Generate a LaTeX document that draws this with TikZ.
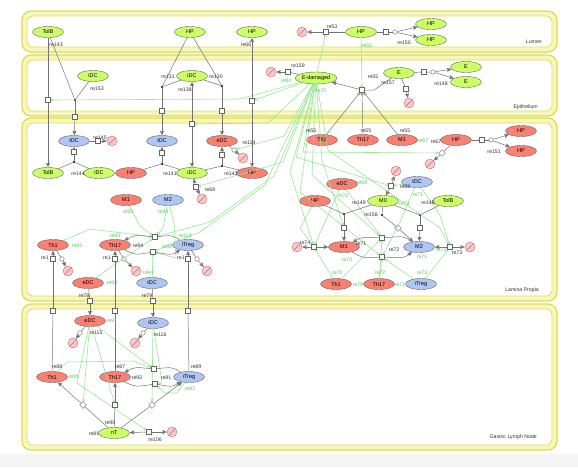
\documentclass[tikz,border=0pt]{standalone}
\usepackage{fontspec}
\setmainfont{Liberation Sans}
\usetikzlibrary{shapes.geometric,arrows.meta,positioning}
\definecolor{spgreen}{RGB}{204,255,102}
\definecolor{spred}{RGB}{250,128,114}
\definecolor{spblue}{RGB}{176,198,242}
\definecolor{modgreen}{RGB}{150,232,150}
\definecolor{labgreen}{RGB}{80,205,80}
\definecolor{compfill}{RGB}{246,246,196}
\definecolor{compline}{RGB}{222,222,70}
\definecolor{degfill}{RGB}{250,200,200}
\definecolor{degline}{RGB}{200,110,110}
\colorlet{conn}{black!55}

\tikzset{
  species/.style={ellipse, draw=black!60, line width=0.4pt, minimum width=31, minimum height=11, inner sep=0, font=\fontsize{5.5}{5.5}\selectfont},
  green sp/.style={species, fill=spgreen},
  red sp/.style={species, fill=spred},
  blue sp/.style={species, fill=spblue},
  deg/.style={circle, draw=degline, fill=degfill, minimum size=10, inner sep=0, path picture={\draw[degline] (path picture bounding box.south west) -- (path picture bounding box.north east);}},
  proc/.style={rectangle, draw=black!60, fill=white, minimum size=5, inner sep=0},
  bullet/.style={circle, fill=black, minimum size=2.4, inner sep=0},
  ring/.style={circle, draw=black!60, fill=white, minimum size=4.5, inner sep=0},
  kite/.style={diamond, draw=black!60, fill=white, minimum size=7, inner sep=0},
  rlab/.style={font=\fontsize{5.2}{5.2}\selectfont, text=black!80, inner sep=0},
  glab/.style={rlab, text=labgreen},
  conv/.style={draw=conn, line width=0.5pt},
  prod/.style={conv, -{Stealth[length=4.5pt,width=4pt,inset=0.8pt]}},
  modi/.style={conv, -{Circle[open,length=3pt,width=3pt]}},
  ctrl/.style={draw=modgreen, line width=0.6pt, -{Circle[open,length=3pt,width=3pt]}},
  comp/.style={fill=compfill, draw=compline, line width=1.2pt, rounded corners=9},
  compin/.style={fill=white, draw=compline, line width=0.7pt, rounded corners=6},
}

\begin{document}
\begin{tikzpicture}[x=1pt,y=-1pt]
    \useasboundingbox (0,0) rectangle (578,467);
    \fill[white] (0,0) rectangle (578,467);
    \fill[black!4] (0,454) rectangle (578,467);

    % compartments
    \draw[comp] (22,11) rectangle (557,52);
    \draw[compin] (27,16) rectangle (552,47);
    \draw[comp] (22,55) rectangle (557,116);
    \draw[compin] (27,60) rectangle (552,111);
    \draw[comp] (22,118) rectangle (557,301);
    \draw[compin] (27,123) rectangle (552,296);
    \draw[comp] (22,304) rectangle (557,450);
    \draw[compin] (27,309) rectangle (552,445);
    \node[rlab, anchor=east] (lumen) at (542,42) {Lumen};
    \node[rlab, anchor=east] (epith) at (538,107) {Epithelium};
    \node[rlab, anchor=east] (lamina) at (539,290) {Lamina Propia};
    \node[rlab, anchor=east] (gln) at (537,437) {Gastric Lymph Node};

    % Lumen
    \node[green sp] (tolbLu) at (48,32) {TolB};
    \node[green sp] (hpLu1) at (190,32) {HP};
    \node[green sp] (hpLu2) at (252,32) {HP};
    \node[green sp] (hpLu3) at (361,32) {HP};
    \node[green sp] (hpLu4) at (431,24) {HP};
    \node[green sp] (hpLu5) at (431,40) {HP};
    \node[deg] (dgLu) at (302,32) {};
    \node[proc] (re53) at (326,32) {};
    \node[proc] (re150) at (386,32) {};
    \node[ring] (re150r) at (395,32) {};

    % Epithelium
    \node[green sp] (idcEp1) at (93,76) {iDC};
    \node[green sp] (idcEp2) at (192,76) {iDC};
    \node[green sp, minimum width=42, minimum height=12] (edam) at (316,78) {E-damaged};
    \node[green sp] (eEp1) at (399,73) {E};
    \node[green sp] (eEp2) at (466,67) {E};
    \node[green sp] (eEp3) at (466,82) {E};
    \node[deg] (dgEp1) at (271,72) {};
    \node[proc] (re159) at (288,72) {};
    \node[proc] (re157) at (424,72) {};
    \node[ring] (re157r) at (433,72) {};
    \node[proc] (reEdg) at (406,89) {};
    \node[deg] (dgEp2) at (409,103) {};
    \node[proc] (re55) at (362,90) {};
    \coordinate (re55k) at (374,90);

    \node[proc] (re143) at (48,100) {};
    \node[bullet] (re153d) at (75,100) {};
    \node[proc] (re153) at (75,117) {};
    \node[bullet] (re131d) at (162,87) {};
    \node[proc] (re131) at (162,111) {};
    \node[bullet] (re130d) at (222,86) {};
    \node[proc] (re130) at (222,111) {};
    \node[proc] (re138) at (192,124) {};
    \node[proc] (re66) at (252,101) {};

    % Lamina Propia, left
    \node[blue sp] (tdcLP1) at (74,141) {tDC};
    \node[proc] (re145) at (98,141) {};
    \node[deg] (dgLP1) at (112,141) {};
    \node[green sp] (tolbLP) at (48,173) {TolB};
    \node[green sp] (idcLP1) at (99,173) {iDC};
    \node[bullet] (re144d) at (74,162) {};
    \node[proc] (re144) at (74,152) {};
    \node[blue sp] (tdcLP2) at (162,141) {tDC};
    \node[red sp] (hpLP1) at (131,173) {HP};
    \node[green sp] (idcLP2) at (192,173) {iDC};
    \node[bullet] (re141d) at (162,164) {};
    \node[proc] (re141) at (162,153) {};
    \node[red sp] (edcLP1) at (222,141) {eDC};
    \node[red sp] (hpLP2) at (252,173) {HP};
    \node[bullet] (re142d) at (222,166) {};
    \node[proc] (re142) at (222,155) {};
    \node[ring] (re114r) at (234,150) {};
    \node[deg] (dgLP2) at (243,158) {};
    \node[proc] (re68) at (196,187) {};
    \node[deg] (dgLP3) at (202,199) {};
    \node[red sp] (m1LP1) at (126,200) {M1};
    \node[blue sp] (m2LP1) at (168,200) {M2};

    \node[red sp] (th1LP2) at (53,245) {Th1};
    \node[red sp] (th17LP2) at (115,245) {Th17};
    \node[blue sp] (itregLP1) at (188,245) {iTreg};
    \node[proc] (re93) at (155,237) {};
    \node[proc] (re94) at (153,252) {};
    \node[proc] (sqTh1) at (53,259) {};
    \node[proc] (sqTh17) at (115,259) {};
    \node[proc] (sqItreg) at (188,259) {};
    \node[ring] (re12a) at (62,259) {};
    \node[deg] (dgTh1) at (68,271) {};
    \node[ring] (re12b) at (124,259) {};
    \node[deg] (dgTh17) at (136,271) {};
    \node[ring] (re12c) at (197,259) {};
    \node[deg] (dgItreg) at (207,271) {};
    \node[red sp] (edcLP3) at (88,283) {eDC};
    \node[blue sp] (tdcLP4) at (152,283) {tDC};
    \node[proc] (re78) at (90,301) {};
    \node[proc] (re79) at (153,301) {};

    % Lamina Propia, right
    \node[red sp] (th1LP1) at (322,140) {Th1};
    \node[red sp] (th17LP1) at (363,140) {Th17};
    \node[red sp] (m1LP2) at (402,140) {M1};
    \node[red sp] (hpLP3) at (456,140) {HP};
    \node[proc] (re151) at (482,140) {};
    \node[ring] (re151r) at (491,140) {};
    \node[red sp] (hpLP4) at (521,131) {HP};
    \node[red sp] (hpLP5) at (521,151) {HP};
    \node[kite] (re67) at (442,153) {};
    \node[deg] (dgLP4) at (430,164) {};
    \node[red sp] (edcLP2) at (342,184) {eDC};
    \node[blue sp] (tdcLP3) at (417,182) {tDC};
    \node[deg] (dgLP5) at (396,171) {};
    \node[proc] (re69) at (391,186) {};
    \node[red sp] (hpLP6) at (315,201) {HP};
    \node[green sp] (m0LP) at (383,201) {M0};
    \node[green sp] (tolbLP2) at (448,201) {TolB};
    \node[bullet] (re149d) at (344,214) {};
    \node[proc] (re149) at (344,228) {};
    \node[bullet] (re158d) at (382,215) {};
    \node[kite] (re158) at (398,228) {};
    \node[bullet] (re146d) at (420,215) {};
    \node[proc] (re146) at (420,228) {};
    \node[red sp] (m1LP3) at (344,247) {M1};
    \node[blue sp] (m2LP2) at (419,247) {M2};
    \node[deg] (dgLP6) at (297,247) {};
    \node[proc] (re74) at (314,247) {};
    \node[deg] (dgLP7) at (470,247) {};
    \node[proc] (re73) at (450,247) {};
    \node[proc] (re71) at (382,238) {};
    \node[proc] (re72) at (382,257) {};
    \node[red sp] (th1LP3) at (336,284) {Th1};
    \node[red sp] (th17LP3) at (379,284) {Th17};
    \node[blue sp] (itregLP2) at (421,284) {iTreg};

    % Gastric Lymph Node
    \node[red sp] (edcG) at (90,321) {eDC};
    \node[blue sp] (tdcG) at (153,323) {tDC};
    \node[ring] (re115) at (80,333) {};
    \node[deg] (dgG1) at (73,343) {};
    \node[ring] (re116) at (143,333) {};
    \node[deg] (dgG2) at (135,343) {};
    \node[red sp] (th1G) at (52,377) {Th1};
    \node[red sp] (th17G) at (115,377) {Th17};
    \node[blue sp] (itregG) at (189,377) {iTreg};
    \node[proc] (re88) at (53,311) {};
    \node[proc] (re87) at (115,311) {};
    \node[proc] (re89) at (188,311) {};
    \node[proc] (re91) at (154,369) {};
    \node[proc] (re92) at (155,384) {};
    \node[green sp] (ntG) at (114,433) {nT};
    \node[kite] (re80) at (83,405) {};
    \node[proc] (re90) at (115,405) {};
    \node[kite] (re83) at (152,405) {};
    \node[proc] (re106) at (149,432) {};
    \node[deg] (dgG3) at (172,432) {};

    % green controls
    \draw[ctrl] (edam) -- (240,99) -- (re143);
    \draw[ctrl] (edam) -- (re66);
    \draw[ctrl] (edam) -- (re53);
    \draw[ctrl] (edam) -- (268,123) -- (re138);
    \draw[ctrl] (edam) -- (284,136) -- (re114r);
    \draw[ctrl] (edam) -- (283,162) -- (re68);
    \draw[ctrl] (edam) -- (274,176) -- (210,222) -- (re93);
    \draw[ctrl] (edam) -- (264,186) -- (200,232) -- (re94);
    \draw[ctrl] (edam) -- (303,152) -- (re67);
    \draw[ctrl] (edam) -- (296,157) -- (re69);
    \draw[ctrl] (edam) -- (290,172) -- (re74);
    \draw[ctrl] (edam) -- (312,175) -- (re71);
    \draw[ctrl] (edam) -- (300,192) -- (re72);
    \draw[ctrl] (edam) -- (322,160) -- (re149);
    \draw[ctrl] (edam) -- (328,150) -- (440,228) -- (re73);
    \draw[ctrl] (hpLu3) -- (re55);
    \draw[ctrl] (edcLP2) -- (re71);
    \draw[ctrl] (edcLP2) -- (328,215) -- (re74);
    \draw[ctrl] (tdcLP3) -- (re69);
    \draw[ctrl] (tdcLP3) -- (400,222) -- (re72);
    \draw[ctrl] (tdcLP3) -- (440,215) -- (re73);
    \draw[ctrl] (hpLP6) -- (300,228) -- (re74);
    \draw[ctrl] (th1LP3) -- (re74);
    \draw[ctrl] (th1LP3) -- (re71);
    \draw[ctrl] (th17LP3) -- (re72);
    \draw[ctrl] (th17LP3) -- (re71);
    \draw[ctrl] (itregLP2) -- (re73);
    \draw[ctrl] (itregLP2) -- (re72);
    \draw[ctrl] (th1LP2) -- (90,229) -- (re93);
    \draw[ctrl] (edcLP3) -- (re93);
    \draw[ctrl] (tdcLP4) -- (re94);
    \draw[ctrl] (m1LP1) -- (140,226) -- (re93);
    \draw[ctrl] (m2LP1) -- (163,228) -- (re93);
    \draw[ctrl] (m2LP1) -- (174,222) -- (176,258) -- (re94);
    \draw[ctrl] (edcG) -- (re80);
    \draw[ctrl] (edcG) -- (re90);
    \draw[ctrl] (edcG) -- (re91);
    \draw[ctrl] (edcG) -- (77,383) -- (re106);
    \draw[ctrl] (tdcG) -- (re83);
    \draw[ctrl] (tdcG) -- (162,383) -- (re92);
    \draw[ctrl] (th1G) -- (67,362) -- (133,361) -- (re91);
    \draw[ctrl] (itregG) -- (177,393) -- (165,393) -- (re92);

    % reactions
    \draw[conv] (tolbLu) -- (re143);
    \draw[prod] (re143) -- (tolbLP);
    \draw[conv] (tolbLu) -- (re153d);
    \draw[conv] (idcEp1) -- (re153d);
    \draw[conv] (re153d) -- (re153);
    \draw[prod] (re153) -- (tdcLP1);
    \draw[conv] (hpLu1) -- (re131d);
    \draw[conv] (idcEp2) -- (re131d);
    \draw[conv] (re131d) -- (re131);
    \draw[prod] (re131) -- (tdcLP2);
    \draw[conv] (hpLu1) -- (re130d);
    \draw[conv] (idcEp2) -- (re130d);
    \draw[conv] (re130d) -- (re130);
    \draw[prod] (re130) -- (edcLP1);
    \draw[prod] (re138) -- (idcEp2);
    \draw[prod] (re138) -- (idcLP2);
    \draw[prod] (re66) -- (hpLu2);
    \draw[prod] (re66) -- (hpLP2);
    \draw[conv] (hpLu3) -- (re53);
    \draw[prod] (re53) -- (dgLu);
    \draw[conv] (hpLu3) -- (re150) -- (re150r);
    \draw[prod] (re150r) -- (hpLu4);
    \draw[prod] (re150r) -- (hpLu5);
    \draw[conv] (edam) -- (re159);
    \draw[prod] (re159) -- (dgEp1);
    \draw[conv] (eEp1) -- (re157) -- (re157r);
    \draw[prod] (re157r) -- (eEp2);
    \draw[prod] (re157r) -- (eEp3);
    \draw[conv] (eEp1) -- (reEdg);
    \draw[prod] (reEdg) -- (dgEp2);
    \draw[conv] (eEp1) -- (re55k) -- (re55);
    \draw[prod] (re55) -- (edam);
    \draw[modi] (th1LP1) -- (re55);
    \draw[modi] (th17LP1) -- (re55);
    \draw[modi] (m1LP2) -- (re55);

    \draw[conv] (tdcLP1) -- (re145);
    \draw[prod] (re145) -- (dgLP1);
    \draw[conv] (tolbLP) -- (re144d);
    \draw[conv] (idcLP1) -- (re144d);
    \draw[conv] (re144d) -- (re144);
    \draw[prod] (re144) -- (tdcLP1);
    \draw[conv] (hpLP1) -- (re141d);
    \draw[conv] (idcLP2) -- (re141d);
    \draw[conv] (re141d) -- (re141);
    \draw[prod] (re141) -- (tdcLP2);
    \draw[conv] (idcLP2) -- (re142d);
    \draw[conv] (hpLP2) -- (re142d);
    \draw[conv] (re142d) -- (re142);
    \draw[prod] (re142) -- (edcLP1);
    \draw[conv] (edcLP1) -- (re114r);
    \draw[prod] (re114r) -- (dgLP2);
    \draw[prod] (re68) -- (idcLP2);
    \draw[prod] (re68) -- (dgLP3);

    \draw[conv] (itregLP1) .. controls (172,235) .. (re93);
    \draw[prod] (re93) .. controls (135,235) .. (th17LP2);
    \draw[conv] (th17LP2) .. controls (135,255) .. (re94);
    \draw[prod] (re94) .. controls (172,255) .. (itregLP1);
    \draw[conv] (th1LP2) -- (re12a);
    \draw[prod] (re12a) -- (dgTh1);
    \draw[conv] (th17LP2) -- (re12b);
    \draw[prod] (re12b) -- (dgTh17);
    \draw[conv] (itregLP1) -- (re12c);
    \draw[prod] (re12c) -- (dgItreg);
    \draw[conv] (edcLP3) -- (re78);
    \draw[prod] (re78) -- (edcG);
    \draw[conv] (tdcLP4) -- (re79);
    \draw[prod] (re79) -- (tdcG);

    \draw[conv] (hpLP3) -- (re151) -- (re151r);
    \draw[prod] (re151r) -- (hpLP4);
    \draw[prod] (re151r) -- (hpLP5);
    \draw[conv] (hpLP3) -- (re67);
    \draw[prod] (re67) -- (dgLP4);
    \draw[prod] (re69) -- (m0LP);
    \draw[prod] (re69) -- (dgLP5);
    \draw[conv] (hpLP6) -- (re149d);
    \draw[conv] (m0LP) -- (re149d);
    \draw[conv] (re149d) -- (re149);
    \draw[prod] (re149) -- (m1LP3);
    \draw[conv] (m0LP) -- (re158d);
    \draw[conv] (re158d) -- (re158);
    \draw[prod] (re158) -- (m2LP2);
    \draw[conv] (m0LP) -- (re146d);
    \draw[conv] (tolbLP2) -- (re146d);
    \draw[conv] (re146d) -- (re146);
    \draw[prod] (re146) -- (m2LP2);
    \draw[prod] (re74) -- (dgLP6);
    \draw[prod] (re74) -- (m1LP3);
    \draw[prod] (re73) -- (dgLP7);
    \draw[prod] (re73) -- (m2LP2);
    \draw[conv] (m2LP2) .. controls (404,236) .. (re71);
    \draw[prod] (re71) .. controls (362,237) .. (m1LP3);
    \draw[conv] (m1LP3) .. controls (362,258) .. (re72);
    \draw[prod] (re72) .. controls (404,258) .. (m2LP2);

    \draw[conv] (th1G) -- (re88);
    \draw[prod] (re88) -- (th1LP2);
    \draw[conv] (th17G) -- (re87);
    \draw[prod] (re87) -- (th17LP2);
    \draw[conv] (itregG) -- (re89);
    \draw[prod] (re89) -- (itregLP1);
    \draw[conv] (edcG) -- (re115);
    \draw[prod] (re115) -- (dgG1);
    \draw[conv] (tdcG) -- (re116);
    \draw[prod] (re116) -- (dgG2);
    \draw[conv] (ntG) -- (re80);
    \draw[prod] (re80) -- (th1G);
    \draw[conv] (ntG) -- (re90);
    \draw[prod] (re90) -- (th17G);
    \draw[conv] (ntG) -- (re83);
    \draw[prod] (re83) -- (itregG);
    \draw[prod] (re106) -- (ntG);
    \draw[prod] (re106) -- (dgG3);
    \draw[conv] (itregG) .. controls (172,367) .. (re91);
    \draw[prod] (re91) .. controls (135,367) .. (th17G);
    \draw[conv] (th17G) .. controls (135,387) .. (re92);
    \draw[prod] (re92) .. controls (172,387) .. (itregG);

    % squares on top of lines
    \foreach \p in {re143,re153,re131,re130,re138,re66,re53,re150,re159,re157,reEdg,re55,
                    re145,re144,re141,re142,re68,re93,re94,sqTh1,sqTh17,sqItreg,re78,re79,
                    re151,re69,re149,re146,re74,re73,re71,re72,
                    re88,re87,re89,re91,re92,re90,re106}
        \node[proc] at (\p) {};

    % reaction labels
    \node[rlab] (t143) at (56,45) {re143};
    \node[rlab] (t66) at (246,45) {re66};
    \node[rlab] (t53) at (332,27) {re53};
    \node[rlab] (t150) at (404,43) {re150};
    \node[rlab] (t153) at (97,89) {re153};
    \node[rlab] (t131) at (168,77) {re131};
    \node[rlab] (t138) at (185,90) {re138};
    \node[rlab] (t130) at (216,77) {re130};
    \node[rlab] (t159) at (298,66) {re159};
    \node[rlab] (t55) at (373,77) {re55};
    \node[rlab] (t157) at (388,83) {re157};
    \node[rlab] (t148) at (441,84) {re148};
    \node[glab] (g94e) at (286,81) {re94};
    \node[glab] (g70e) at (321,91) {re70};
    \node[glab] (g55) at (367,46) {re55};

    \node[rlab] (t145) at (100,138) {re145};
    \node[rlab] (t144) at (78,174) {re144};
    \node[rlab] (t141) at (170,174) {re141};
    \node[rlab] (t142) at (231,174) {re142};
    \node[rlab] (t114) at (249,143) {re114};
    \node[rlab] (t68) at (210,190) {re68};
    \node[glab] (g93a) at (128,212) {re93};
    \node[glab] (g94a) at (163,212) {re94};
    \node[glab] (g93b) at (115,236) {re93};
    \node[glab] (g114) at (185,236) {re114};
    \node[rlab] (t94) at (138,246) {re94};
    \node[glab] (g92) at (167,247) {re92};
    \node[glab] (g93c) at (77,246) {re93};
    \node[rlab] (t1a) at (45,258) {re1};
    \node[rlab] (t1b) at (107,258) {re1};
    \node[rlab] (t1c) at (181,258) {re1};
    \node[glab] (g93d) at (112,283) {re93};
    \node[glab] (g94b) at (148,273) {re94};
    \node[rlab] (t78) at (84,296) {re78};
    \node[rlab] (t79) at (147,296) {re79};

    \node[rlab] (t55a) at (311,131) {re55};
    \node[rlab] (t55b) at (366,131) {re55};
    \node[rlab] (t55c) at (405,131) {re55};
    \node[glab] (g67) at (423,141) {re67};
    \node[rlab] (t67) at (436,142) {re67};
    \node[rlab] (t151) at (494,152) {re151};
    \node[rlab] (t69) at (405,187) {re69};
    \node[glab] (g69) at (362,183) {re69};
    \node[glab] (g70a) at (343,196) {re70};
    \node[glab] (g73a) at (404,204) {re73};
    \node[glab] (g71a) at (418,195) {re71};
    \node[rlab] (t149) at (359,203) {re149};
    \node[rlab] (t146) at (428,203) {re146};
    \node[rlab] (t158) at (371,215) {re158};
    \node[rlab] (t74) at (305,243) {re74};
    \node[rlab] (t71) at (361,244) {re71};
    \node[rlab] (t72) at (394,250) {re72};
    \node[rlab] (t73) at (457,253) {re73};
    \node[glab] (g73b) at (441,250) {re73};
    \node[glab] (g71b) at (422,257) {re71};
    \node[glab] (g70b) at (347,260) {re70};
    \node[glab] (g70c) at (337,273) {re70};
    \node[glab] (g72) at (380,273) {re72};
    \node[glab] (g73c) at (422,273) {re73};
    \node[glab] (g70d) at (358,285) {re70};
    \node[glab] (g71c) at (400,285) {re71};

    \node[glab] (g91a) at (112,321) {re91};
    \node[rlab] (t115) at (96,333) {re115};
    \node[rlab] (t116) at (160,335) {re116};
    \node[rlab] (t88) at (57,367) {re88};
    \node[rlab] (t87) at (120,367) {re87};
    \node[rlab] (t89) at (196,367) {re89};
    \node[glab] (g91b) at (74,377) {re91};
    \node[rlab] (t92) at (137,378) {re92};
    \node[rlab] (t91) at (166,378) {re91};
    \node[glab] (g92b) at (190,389) {re92};
    \node[rlab] (t90) at (110,423) {re90};
    \node[rlab] (t81) at (94,434) {re81};
    \node[rlab] (t106) at (155,440) {re106};

\end{tikzpicture}
\end{document}
